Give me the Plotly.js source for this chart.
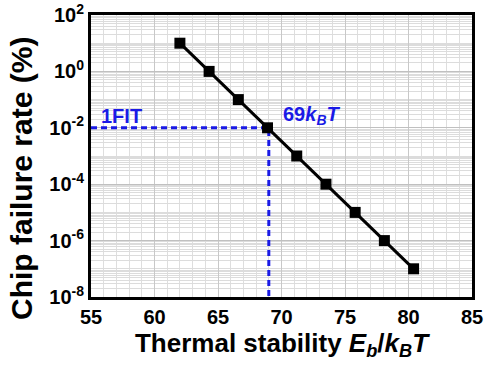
<!DOCTYPE html>
<html><head><meta charset="utf-8">
<script src="https://cdn.plot.ly/plotly-3.0.1.min.js"></script>
<style>html,body{margin:0;padding:0;background:#fff}#chart{width:485px;height:365px}</style>
</head><body><div id="chart"></div>
<script>
const stability = [62, 64.3, 66.6, 68.9, 71.2, 73.5, 75.8, 78.1, 80.4];
const failureRate = [10, 1, 0.1, 0.01, 1e-3, 1e-4, 1e-5, 1e-6, 1e-7];
const fitX = [55, 69, 69];
const fitY = [0.01, 0.01, 1e-8];
const yTickVals = [1e2, 1, 1e-2, 1e-4, 1e-6, 1e-8];
const yTickText = ['10<sup>2</sup>', '10<sup>0</sup>', '10<sup>-2</sup>', '10<sup>-4</sup>', '10<sup>-6</sup>', '10<sup>-8</sup>'];
const xTickVals = [55, 60, 65, 70, 75, 80, 85];

const blue = '#1a1ae6';
const FF = 'Liberation Sans, Arial';
const traces = [
  {x: fitX, y: fitY, mode: 'lines', line: {color: blue, width: 3, dash: '6px,4px'}, hoverinfo: 'skip'},
  {x: stability, y: failureRate, mode: 'lines+markers', line: {color: '#000', width: 3},
   marker: {symbol: 'square', size: 11, color: '#000'}}
];
const tickFont = {family: FF, size: 20, color: '#000', weight: 'bold'};
const pw = 485 - 91 - 13, ph = 365 - 15 - 68;
const layout = {
  width: 485, height: 365,
  margin: {l: 91, r: 13, t: 15, b: 68},
  showlegend: false,
  paper_bgcolor: '#fff', plot_bgcolor: '#fff',
  xaxis: {
    range: [55, 85], tickvals: xTickVals, ticks: '', tickfont: tickFont,
    showgrid: true, gridcolor: '#c8c8c8', gridwidth: 1,
    minor: {dtick: 1, showgrid: true, gridcolor: '#dedede', gridwidth: 1},
    showline: true, linecolor: '#000', linewidth: 3, mirror: true, zeroline: false,
    title: {text: 'Thermal stability <i>E<sub>b</sub></i>/<i>k<sub>B</sub>T</i>', font: {family: FF, size: 26, color: '#000', weight: 'bold'}, standoff: 4}
  },
  yaxis: {
    type: 'log', range: [-8, 2], tickvals: yTickVals, ticktext: yTickText, ticks: '', tickfont: tickFont,
    showgrid: true, gridcolor: '#c0c0c0', gridwidth: 1,
    minor: {dtick: 'D1', showgrid: true, gridcolor: '#dcdcdc', gridwidth: 1},
    showline: true, linecolor: '#000', linewidth: 3, mirror: true, zeroline: false
  },
  annotations: [
    {x: (21 - 91) / pw, y: (365 - 68 - 179) / ph, xref: 'paper', yref: 'paper', xanchor: 'center', yanchor: 'middle',
     text: 'Chip failure rate (%)', showarrow: false, textangle: -90,
     font: {family: FF, size: 30, color: '#000', weight: 'bold'}},
    {x: 57.4, y: -1.58, xref: 'x', yref: 'y', text: '1FIT', showarrow: false,
     font: {family: FF, size: 20, color: blue, weight: 'bold'}},
    {x: 72.4, y: -1.55, xref: 'x', yref: 'y', text: '69<i>k<sub>B</sub>T</i>', showarrow: false,
     font: {family: FF, size: 20, color: blue, weight: 'bold'}}
  ]
};
Plotly.newPlot('chart', traces, layout, {displayModeBar: false, staticPlot: true});
</script></body></html>
